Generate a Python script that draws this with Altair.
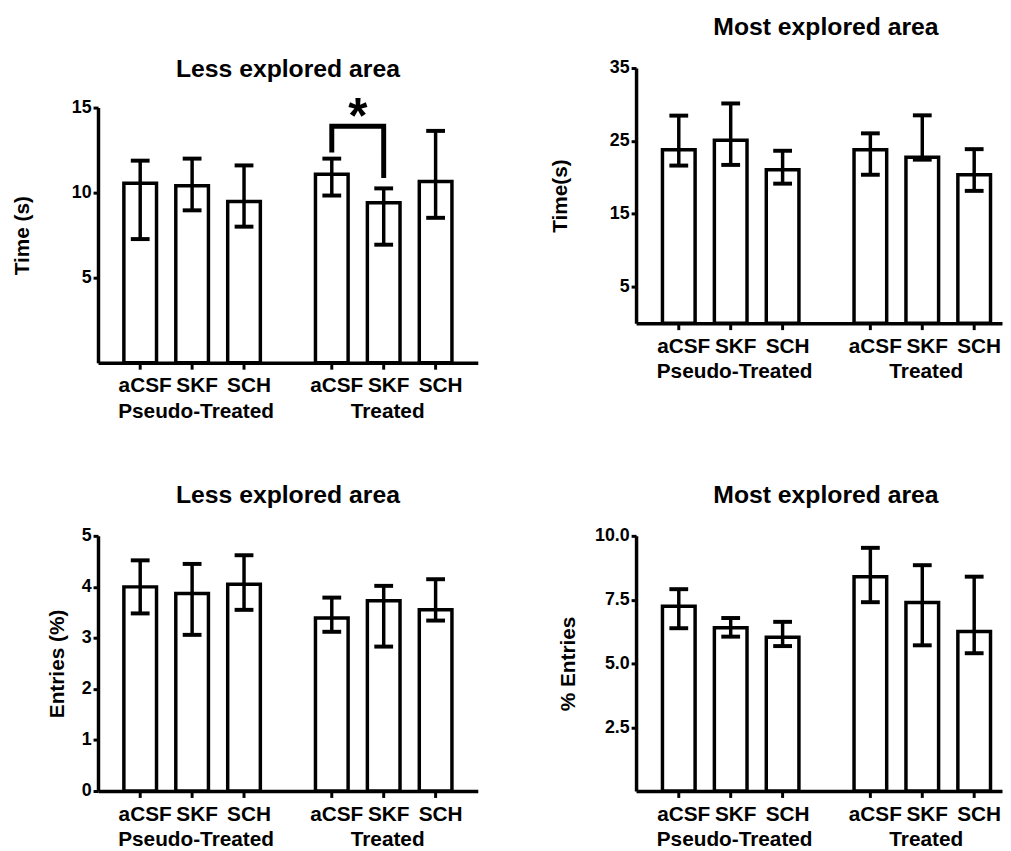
import altair as alt
import pandas as pd

# ---------------- data ----------------
groups = ["Pseudo-Treated", "Pseudo-Treated", "Pseudo-Treated", "Treated", "Treated", "Treated"]
drugs = ["aCSF", "SKF", "SCH", "aCSF", "SKF", "SCH"]
group_order = ["Pseudo-Treated", "Treated"]
drug_order = ["aCSF", "SKF", "SCH"]

# Time in the less explored area (s)
time_less_mean = [10.55, 10.40, 9.48, 11.08, 9.40, 10.65]
time_less_low = [7.27, 8.96, 8.00, 9.83, 6.94, 8.52]
time_less_high = [11.88, 12.00, 11.60, 12.00, 10.25, 13.63]

# Time in the most explored area (s)
time_most_mean = [23.78, 25.09, 21.04, 23.78, 22.75, 20.36]
time_most_low = [21.62, 21.71, 19.14, 20.36, 22.43, 18.15]
time_most_high = [28.47, 30.14, 23.65, 26.04, 28.51, 23.87]

# Entries in the less explored area (%)
entries_less_mean = [4.00, 3.87, 4.05, 3.39, 3.73, 3.55]
entries_less_low = [3.48, 3.06, 3.55, 3.12, 2.83, 3.34]
entries_less_high = [4.52, 4.45, 4.62, 3.79, 4.02, 4.15]

# Entries in the most explored area (%)
entries_most_mean = [7.24, 6.40, 6.03, 8.40, 7.39, 6.25]
entries_most_low = [6.38, 6.05, 5.68, 7.40, 5.71, 5.40]
entries_most_high = [7.91, 6.78, 6.63, 9.53, 8.85, 8.40]

# significance bracket (Treated: aCSF vs SKF, less explored area time)
bracket_group = ["Treated", "Treated", "Treated", "Treated"]
bracket_drug = ["aCSF", "aCSF", "SKF", "SKF"]
bracket_value = [12.50, 13.90, 13.90, 11.00]
bracket_step = [0, 1, 2, 3]
star_group = ["Treated"]
star_drug = ["SKF"]
star_value = [15.07]
star_text = ["*"]

FONT = "Liberation Sans"


def panel(mean, low, high, title, ytitle, domain, yticks, fmt, width, height, top,
          po, align, title_offset, title_dx, title_pad, extra=None):
    df = pd.DataFrame({"group": groups, "drug": drugs, "mean": mean, "low": low, "high": high})
    base = alt.Chart(df)
    x = alt.X("group:N", sort=group_order,
              scale=alt.Scale(paddingInner=0.187, paddingOuter=po, align=align),
              axis=alt.Axis(title=None, ticks=False, tickSize=0, labelPadding=38, labelOffset=4,
                            labelAngle=0, domainWidth=3.5, domainColor="black", labelFontSize=21,
                            labelFont=FONT, labelFontWeight="bold", labelColor="black",
                            grid=False, labelOverlap=False))
    xo = alt.XOffset("drug:N", sort=drug_order,
                     scale=alt.Scale(paddingInner=0.371, paddingOuter=0.1857))
    ysc = alt.Scale(domain=domain, range=[height, top], nice=False, zero=True)
    yax = alt.Axis(values=yticks, format=fmt, title=ytitle, titlePadding=title_pad, grid=False,
                   tickSize=5, tickWidth=3, tickColor="black", domainWidth=3.5,
                   domainColor="black", labelPadding=2, labelFontSize=18, labelFont=FONT,
                   labelFontWeight="bold", labelColor="black", titleFontSize=21,
                   titleFont=FONT, titleFontWeight="bold", titleColor="black")

    bars = base.mark_bar(fill="white", stroke="black", strokeWidth=3.5).encode(
        x=x, xOffset=xo, y=alt.Y("mean:Q", scale=ysc, axis=yax))
    stems = base.mark_rule(color="black", strokeWidth=3.5).encode(
        x=x, xOffset=xo, y=alt.Y("low:Q", scale=ysc, axis=yax), y2="high:Q")
    cap_hi = base.mark_tick(color="black", size=19, thickness=4, opacity=1).encode(
        x=x, xOffset=xo, y=alt.Y("high:Q", scale=ysc, axis=yax))
    cap_lo = base.mark_tick(color="black", size=19, thickness=4, opacity=1).encode(
        x=x, xOffset=xo, y=alt.Y("low:Q", scale=ysc, axis=yax))
    xticks = base.mark_rule(color="black", strokeWidth=3).encode(
        x=x, xOffset=xo, y=alt.value(height), y2=alt.value(height + 7))
    xlabels = base.mark_text(baseline="top", dx=5, fontSize=21, font=FONT, fontWeight="bold",
                             color="black").encode(
        x=x, xOffset=xo, y=alt.value(height + 13), text="drug:N")

    layers = [bars, stems, cap_hi, cap_lo, xticks, xlabels]
    if extra is not None:
        layers += extra(x, xo, ysc, yax)
    return alt.layer(*layers).properties(
        width=width, height=height,
        title=alt.TitleParams(title, fontSize=25, font=FONT, fontWeight="bold", color="black",
                              anchor="middle", offset=title_offset, dx=title_dx))


def significance(x, xo, ysc, yax):
    bdf = pd.DataFrame({"group": bracket_group, "drug": bracket_drug,
                        "value": bracket_value, "step": bracket_step})
    sdf = pd.DataFrame({"group": star_group, "drug": star_drug,
                        "value": star_value, "label": star_text})
    line = alt.Chart(bdf).mark_line(color="black", strokeWidth=5, strokeCap="square",
                                    strokeJoin="miter").encode(
        x=x, xOffset=xo, y=alt.Y("value:Q", scale=ysc, axis=yax), order="step:Q")
    star = alt.Chart(sdf).mark_text(fontSize=50, font=FONT, fontWeight="bold", color="black",
                                    baseline="alphabetic", dx=-26, dy=27).encode(
        x=x, xOffset=xo, y=alt.Y("value:Q", scale=ysc, axis=yax), text="label:N")
    return [line, star]


SHIFT = 40
p1 = panel(time_less_mean, time_less_low, time_less_high, "Less explored area", "Time (s)",
           [0, 15], [5, 10, 15], "d", 384, 258 + SHIFT, SHIFT, 0.0847, 0.5,
           -14, 0, 39, extra=significance)
p2 = panel(time_most_mean, time_most_low, time_most_high, "Most explored area", "Time(s)",
           [0, 35], [5, 15, 25, 35], "d", 370, 258, 0, 0.0486, 0.9,
           19, 7, 39)
p3 = panel(entries_less_mean, entries_less_low, entries_less_high, "Less explored area",
           "Entries (%)", [0, 5], [0, 1, 2, 3, 4, 5], "d", 384, 258, 0, 0.0847, 0.5,
           19, 0, 14)
p4 = panel(entries_most_mean, entries_most_low, entries_most_high, "Most explored area",
           "% Entries", [0, 10], [2.5, 5, 7.5, 10], ".1f", 370, 258, 0, 0.0486, 0.9,
           19, 7, 16)

chart = alt.concat(p1, p2, p3, p4, columns=2, spacing={"row": 61, "column": 71}).properties(
    padding={"left": 3, "top": 2, "right": 0, "bottom": 0}
).configure(background="white", view=alt.ViewConfig(stroke="transparent"))

chart.save("out.html", embed_options={"renderer": "svg", "actions": False})
